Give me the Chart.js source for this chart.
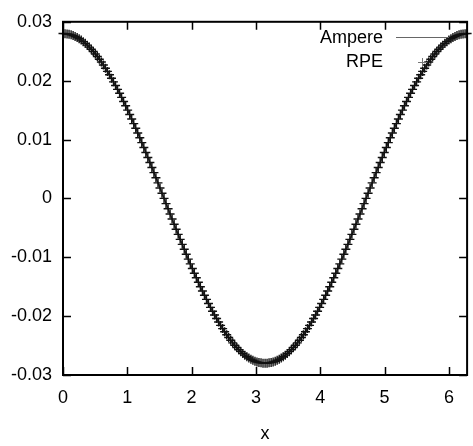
<!DOCTYPE html>
<html>
<head>
<meta charset="utf-8">
<script src="https://cdn.jsdelivr.net/npm/chart.js@4/dist/chart.umd.min.js"></script>
<style>
    html, body { margin: 0; padding: 0; background: #fff; }
    #wrap { width: 473px; height: 446px; }
</style>
</head>
<body>
<div id="wrap"><canvas id="plot" width="473" height="446"></canvas></div>
<script>
// sample positions on x (0 .. 2pi)
const xValues = [
    0, 0.031, 0.063, 0.094, 0.126, 0.157, 0.188, 0.220, 0.251, 0.283,
    0.314, 0.346, 0.377, 0.408, 0.440, 0.471, 0.503, 0.534, 0.565, 0.597,
    0.628, 0.660, 0.691, 0.723, 0.754, 0.785, 0.817, 0.848, 0.880, 0.911,
    0.942, 0.974, 1.005, 1.037, 1.068, 1.100, 1.131, 1.162, 1.194, 1.225,
    1.257, 1.288, 1.319, 1.351, 1.382, 1.414, 1.445, 1.477, 1.508, 1.539,
    1.571, 1.602, 1.634, 1.665, 1.696, 1.728, 1.759, 1.791, 1.822, 1.854,
    1.885, 1.916, 1.948, 1.979, 2.011, 2.042, 2.073, 2.105, 2.136, 2.168,
    2.199, 2.231, 2.262, 2.293, 2.325, 2.356, 2.388, 2.419, 2.450, 2.482,
    2.513, 2.545, 2.576, 2.608, 2.639, 2.670, 2.702, 2.733, 2.765, 2.796,
    2.827, 2.859, 2.890, 2.922, 2.953, 2.985, 3.016, 3.047, 3.079, 3.110,
    3.142, 3.173, 3.204, 3.236, 3.267, 3.299, 3.330, 3.362, 3.393, 3.424,
    3.456, 3.487, 3.519, 3.550, 3.581, 3.613, 3.644, 3.676, 3.707, 3.738,
    3.770, 3.801, 3.833, 3.864, 3.896, 3.927, 3.958, 3.990, 4.021, 4.053,
    4.084, 4.115, 4.147, 4.178, 4.210, 4.241, 4.273, 4.304, 4.335, 4.367,
    4.398, 4.430, 4.461, 4.492, 4.524, 4.555, 4.587, 4.618, 4.650, 4.681,
    4.712, 4.744, 4.775, 4.807, 4.838, 4.869, 4.901, 4.932, 4.964, 4.995,
    5.027, 5.058, 5.089, 5.121, 5.152, 5.184, 5.215, 5.246, 5.278, 5.309,
    5.341, 5.372, 5.404, 5.435, 5.466, 5.498, 5.529, 5.561, 5.592, 5.623,
    5.655, 5.686, 5.718, 5.749, 5.781, 5.812, 5.843, 5.875, 5.906, 5.938,
    5.969, 6.000, 6.032, 6.063, 6.095, 6.126, 6.158, 6.189, 6.220, 6.252,
    6.283
];

// Ampere curve
const ampereValues = [
    0.02800, 0.02799, 0.02794, 0.02788, 0.02778, 0.02766, 0.02750, 0.02733, 0.02712, 0.02689,
    0.02663, 0.02634, 0.02603, 0.02570, 0.02534, 0.02495, 0.02454, 0.02410, 0.02364, 0.02316,
    0.02265, 0.02212, 0.02157, 0.02100, 0.02041, 0.01980, 0.01917, 0.01852, 0.01785, 0.01716,
    0.01646, 0.01574, 0.01500, 0.01425, 0.01349, 0.01271, 0.01192, 0.01112, 0.01031, 0.00948,
    0.00865, 0.00781, 0.00696, 0.00611, 0.00525, 0.00438, 0.00351, 0.00264, 0.00176, 0.00088,
    0,
    -0.00088, -0.00176, -0.00264, -0.00351, -0.00438, -0.00525, -0.00611, -0.00696, -0.00781, -0.00865,
    -0.00948, -0.01031, -0.01112, -0.01192, -0.01271, -0.01349, -0.01425, -0.01500, -0.01574, -0.01646,
    -0.01716, -0.01785, -0.01852, -0.01917, -0.01980, -0.02041, -0.02100, -0.02157, -0.02212, -0.02265,
    -0.02316, -0.02364, -0.02410, -0.02454, -0.02495, -0.02534, -0.02570, -0.02603, -0.02634, -0.02663,
    -0.02689, -0.02712, -0.02733, -0.02750, -0.02766, -0.02778, -0.02788, -0.02794, -0.02799, -0.02800,
    -0.02799, -0.02794, -0.02788, -0.02778, -0.02766, -0.02750, -0.02733, -0.02712, -0.02689, -0.02663,
    -0.02634, -0.02603, -0.02570, -0.02534, -0.02495, -0.02454, -0.02410, -0.02364, -0.02316, -0.02265,
    -0.02212, -0.02157, -0.02100, -0.02041, -0.01980, -0.01917, -0.01852, -0.01785, -0.01716, -0.01646,
    -0.01574, -0.01500, -0.01425, -0.01349, -0.01271, -0.01192, -0.01112, -0.01031, -0.00948, -0.00865,
    -0.00781, -0.00696, -0.00611, -0.00525, -0.00438, -0.00351, -0.00264, -0.00176, -0.00088, 0,
    0.00088, 0.00176, 0.00264, 0.00351, 0.00438, 0.00525, 0.00611, 0.00696, 0.00781, 0.00865,
    0.00948, 0.01031, 0.01112, 0.01192, 0.01271, 0.01349, 0.01425, 0.01500, 0.01574, 0.01646,
    0.01716, 0.01785, 0.01852, 0.01917, 0.01980, 0.02041, 0.02100, 0.02157, 0.02212, 0.02265,
    0.02316, 0.02364, 0.02410, 0.02454, 0.02495, 0.02534, 0.02570, 0.02603, 0.02634, 0.02663,
    0.02689, 0.02712, 0.02733, 0.02750, 0.02766, 0.02778, 0.02788, 0.02794, 0.02799, 0.02800
];

// RPE points sit on top of the Ampere curve in the picture
const rpeValues = ampereValues.slice();

const xTicks = [0, 1, 2, 3, 4, 5, 6];
const yTicks = [-0.03, -0.02, -0.01, 0, 0.01, 0.02, 0.03];
const xMax = 6.2832;

const FONT = '"Liberation Sans", Arial, Helvetica, sans-serif';

function toPoints(xs, ys) {
    return xs.map((x, i) => ({ x: x, y: ys[i] }));
}

function formatY(v) {
    if (Math.abs(v) < 1e-9) return '0';
    return v.toFixed(2);
}

// gnuplot-like frame: full box, inward ticks on all four sides, key in the corner
const framePlugin = {
    id: 'frame',
    afterDraw(chart) {
        const ctx = chart.ctx;
        const a = chart.chartArea;
        const xs = chart.scales.x;
        const ys = chart.scales.y;
        const tl = 8;

        ctx.save();
        ctx.strokeStyle = '#000';
        ctx.lineWidth = 1.5;
        ctx.beginPath();
        xTicks.forEach(t => {
            const px = Math.round(xs.getPixelForValue(t)) + 0.5;
            ctx.moveTo(px, a.bottom); ctx.lineTo(px, a.bottom - tl);
            ctx.moveTo(px, a.top); ctx.lineTo(px, a.top + tl);
        });
        yTicks.forEach(t => {
            const py = Math.round(ys.getPixelForValue(t)) + 0.5;
            ctx.moveTo(a.left, py); ctx.lineTo(a.left + tl, py);
            ctx.moveTo(a.right, py); ctx.lineTo(a.right - tl, py);
        });
        ctx.stroke();

        ctx.lineWidth = 2;
        ctx.strokeRect(a.left, a.top, a.right - a.left, a.bottom - a.top);

        // key
        ctx.fillStyle = '#000';
        ctx.font = '18px ' + FONT;
        ctx.textAlign = 'right';
        ctx.textBaseline = 'middle';
        ctx.fillText('Ampere', 383, 38);
        ctx.fillText('RPE', 383, 62);

        ctx.strokeStyle = '#666';
        ctx.lineWidth = 1;
        ctx.beginPath();
        ctx.moveTo(396, 37.5); ctx.lineTo(449, 37.5);
        ctx.stroke();

        ctx.strokeStyle = '#777';
        ctx.beginPath();
        ctx.moveTo(418, 62.5); ctx.lineTo(427, 62.5);
        ctx.moveTo(422.5, 58); ctx.lineTo(422.5, 67);
        ctx.stroke();
        ctx.restore();
    }
};

document.addEventListener('DOMContentLoaded', function() {
    const ctx = document.getElementById('plot').getContext('2d');

    new Chart(ctx, {
        type: 'line',
        data: {
            datasets: [{
                label: 'Ampere',
                data: toPoints(xValues, ampereValues),
                borderColor: '#222',
                borderWidth: 1.5,
                pointRadius: 0,
                fill: false,
                tension: 0,
                clip: false,
                order: 2
            }, {
                label: 'RPE',
                data: toPoints(xValues, rpeValues),
                showLine: false,
                pointStyle: 'cross',
                pointRadius: 4.5,
                pointBorderWidth: 1.4,
                pointBorderColor: '#111',
                pointBackgroundColor: '#111',
                clip: false,
                order: 1
            }]
        },
        options: {
            responsive: false,
            animation: false,
            events: [],
            layout: { padding: { left: 0, right: 1, top: 16, bottom: 0 } },
            plugins: {
                legend: { display: false },
                tooltip: { enabled: false }
            },
            scales: {
                x: {
                    type: 'linear',
                    min: 0,
                    max: xMax,
                    afterBuildTicks(scale) {
                        scale.ticks = xTicks.map(v => ({ value: v }));
                    },
                    afterFit(scale) { scale.height = 71; },
                    grid: { display: false, drawTicks: false },
                    border: { display: false },
                    ticks: {
                        color: '#000',
                        padding: 12,
                        maxRotation: 0,
                        font: { family: FONT, size: 18 },
                        callback: v => String(v)
                    },
                    title: {
                        display: true,
                        text: 'x',
                        color: '#000',
                        font: { family: FONT, size: 18 },
                        padding: { top: 0, bottom: 1 }
                    }
                },
                y: {
                    type: 'linear',
                    min: -0.03,
                    max: 0.03,
                    afterBuildTicks(scale) {
                        scale.ticks = yTicks.map(v => ({ value: v }));
                    },
                    afterFit(scale) { scale.width = 63; },
                    grid: { display: false, drawTicks: false },
                    border: { display: false },
                    ticks: {
                        color: '#000',
                        padding: 11,
                        font: { family: FONT, size: 18 },
                        callback: v => formatY(v)
                    }
                }
            }
        },
        plugins: [framePlugin]
    });
});
</script>
</body>
</html>
